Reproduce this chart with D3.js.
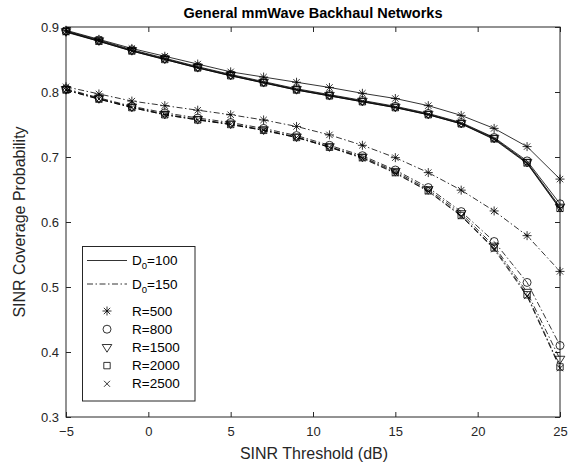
<!DOCTYPE html>
<html>
<head>
<meta charset="utf-8">
<script src="https://cdn.jsdelivr.net/npm/d3@7"></script>
<style>
  html, body { margin: 0; padding: 0; background: #fff; }
  svg { display: block; font-family: "Liberation Sans", Arial, Helvetica, sans-serif; }
</style>
</head>
<body>
<svg id="chart" width="584" height="468"></svg>
<script>
// SINR threshold values (dB)
const thresholds = [-5, -3, -1, 1, 3, 5, 7, 9, 11, 13, 15, 17, 19, 21, 23, 25];

// Cell radii and marker shapes
const radii = [500, 800, 1500, 2000, 2500];
const markerTypes = ["asterisk", "circle", "triangleDown", "square", "cross"];

// Coverage probability, D0 = 100 (solid lines)
const covD100_R500  = [0.895, 0.881, 0.867, 0.855, 0.843, 0.831, 0.823, 0.815, 0.807, 0.798, 0.790, 0.779, 0.764, 0.744, 0.716, 0.666];
const covD100_R800  = [0.894, 0.880, 0.865, 0.852, 0.839, 0.827, 0.816, 0.805, 0.796, 0.787, 0.778, 0.767, 0.753, 0.730, 0.694, 0.628];
const covD100_R1500 = [0.893, 0.879, 0.864, 0.851, 0.838, 0.826, 0.815, 0.804, 0.795, 0.786, 0.777, 0.766, 0.752, 0.729, 0.692, 0.623];
const covD100_R2000 = [0.893, 0.878, 0.863, 0.850, 0.837, 0.825, 0.814, 0.803, 0.794, 0.785, 0.776, 0.765, 0.751, 0.728, 0.691, 0.621];
const covD100_R2500 = [0.892, 0.878, 0.863, 0.850, 0.837, 0.825, 0.814, 0.803, 0.794, 0.785, 0.776, 0.765, 0.751, 0.727, 0.690, 0.620];

// Coverage probability, D0 = 150 (dash-dot lines)
const covD150_R500  = [0.808, 0.797, 0.786, 0.779, 0.772, 0.765, 0.757, 0.747, 0.734, 0.718, 0.699, 0.676, 0.649, 0.617, 0.579, 0.524];
const covD150_R800  = [0.805, 0.791, 0.778, 0.768, 0.760, 0.753, 0.744, 0.733, 0.718, 0.702, 0.680, 0.653, 0.616, 0.570, 0.507, 0.410];
const covD150_R1500 = [0.804, 0.790, 0.777, 0.766, 0.758, 0.751, 0.742, 0.731, 0.716, 0.700, 0.678, 0.650, 0.613, 0.563, 0.492, 0.389];
const covD150_R2000 = [0.803, 0.789, 0.776, 0.765, 0.757, 0.750, 0.741, 0.730, 0.715, 0.699, 0.676, 0.648, 0.610, 0.560, 0.488, 0.377];
const covD150_R2500 = [0.803, 0.789, 0.776, 0.765, 0.757, 0.750, 0.741, 0.730, 0.715, 0.698, 0.675, 0.647, 0.609, 0.558, 0.486, 0.375];

const xTicks = [-5, 0, 5, 10, 15, 20, 25];
const yTicks = [0.3, 0.4, 0.5, 0.6, 0.7, 0.8, 0.9];

const series = [
  { d0: 100, r: 500,  m: "asterisk",     values: covD100_R500 },
  { d0: 100, r: 800,  m: "circle",       values: covD100_R800 },
  { d0: 100, r: 1500, m: "triangleDown", values: covD100_R1500 },
  { d0: 100, r: 2000, m: "square",       values: covD100_R2000 },
  { d0: 100, r: 2500, m: "cross",        values: covD100_R2500 },
  { d0: 150, r: 500,  m: "asterisk",     values: covD150_R500 },
  { d0: 150, r: 800,  m: "circle",       values: covD150_R800 },
  { d0: 150, r: 1500, m: "triangleDown", values: covD150_R1500 },
  { d0: 150, r: 2000, m: "square",       values: covD150_R2000 },
  { d0: 150, r: 2500, m: "cross",        values: covD150_R2500 }
];

const svg = d3.select("#chart");
const axisColor = "#262626";
const plot = { left: 66, right: 560, top: 27, bottom: 417 };

const x = d3.scaleLinear().domain([-5, 25]).range([plot.left, plot.right]);
const y = d3.scaleLinear().domain([0.3, 0.9]).range([plot.bottom, plot.top]);

// marker path generators (centred at 0,0)
function markerPath(type) {
  switch (type) {
    case "asterisk": {
      const r = 4.5, p = d3.path();
      for (let k = 0; k < 4; k++) {
        const a = k * Math.PI / 4;
        p.moveTo(-r * Math.cos(a), -r * Math.sin(a));
        p.lineTo(r * Math.cos(a), r * Math.sin(a));
      }
      return p.toString();
    }
    case "circle": {
      const p = d3.path(); p.arc(0, 0, 4, 0, 2 * Math.PI); p.closePath(); return p.toString();
    }
    case "triangleDown": {
      const r = 4.8;
      return `M${-r},${-r * 0.6}L${r},${-r * 0.6}L0,${r}Z`;
    }
    case "square": {
      const s = 3.2;
      return `M${-s},${-s}L${s},${-s}L${s},${s}L${-s},${s}Z`;
    }
    case "cross": {
      const s = 3;
      return `M${-s},${-s}L${s},${s}M${s},${-s}L${-s},${s}`;
    }
  }
}

const dashFor = d0 => d0 === 150 ? "6,2.5,1.5,2.5" : null;

// box and ticks
const g = svg.append("g");
g.append("rect")
  .attr("x", plot.left).attr("y", plot.top)
  .attr("width", plot.right - plot.left).attr("height", plot.bottom - plot.top)
  .attr("fill", "none").attr("stroke", axisColor).attr("stroke-width", 1);

const tickLen = 5;
const xAxisBottom = d3.axisBottom(x).tickValues(xTicks).tickSizeInner(-tickLen).tickSizeOuter(0).tickPadding(10).tickFormat(d3.format("d"));
const xAxisTop = d3.axisTop(x).tickValues(xTicks).tickSizeInner(-tickLen).tickSizeOuter(0).tickFormat("");
const yAxisLeft = d3.axisLeft(y).tickValues(yTicks).tickSizeInner(-tickLen).tickSizeOuter(0).tickPadding(7).tickFormat(d3.format(".1f"));
const yAxisRight = d3.axisRight(y).tickValues(yTicks).tickSizeInner(-tickLen).tickSizeOuter(0).tickFormat("");

function styleAxis(sel) {
  sel.select(".domain").remove();
  sel.selectAll("line").attr("stroke", axisColor).attr("stroke-width", 1);
  sel.selectAll("text").attr("fill", axisColor).style("font-size", "13px")
    .style("font-family", "'Liberation Sans', Arial, sans-serif");
}

g.append("g").attr("transform", `translate(0,${plot.bottom})`).call(xAxisBottom).call(styleAxis);
g.append("g").attr("transform", `translate(0,${plot.top})`).call(xAxisTop).call(styleAxis);
g.append("g").attr("transform", `translate(${plot.left},0)`).call(yAxisLeft).call(styleAxis);
g.append("g").attr("transform", `translate(${plot.right},0)`).call(yAxisRight).call(styleAxis);

// curves
const line = d3.line().x((d, i) => x(thresholds[i])).y(d => y(d));
const curves = svg.append("g");
series.forEach(s => {
  curves.append("path")
    .datum(s.values)
    .attr("d", line)
    .attr("fill", "none")
    .attr("stroke", "#000")
    .attr("stroke-width", 0.8)
    .attr("stroke-dasharray", dashFor(s.d0));
  curves.selectAll(null)
    .data(s.values)
    .enter().append("path")
    .attr("transform", (d, i) => `translate(${x(thresholds[i])},${y(d)})`)
    .attr("d", markerPath(s.m))
    .attr("fill", "none")
    .attr("stroke", "#000")
    .attr("stroke-width", 0.8);
});

// title and axis labels
svg.append("text")
  .attr("x", (plot.left + plot.right) / 2).attr("y", 18)
  .attr("text-anchor", "middle")
  .style("font-weight", "bold").style("font-size", "14.5px")
  .attr("fill", "#000")
  .text("General mmWave Backhaul Networks");

svg.append("text")
  .attr("x", (plot.left + plot.right) / 2 + 1).attr("y", 459)
  .attr("text-anchor", "middle")
  .style("font-size", "16px")
  .attr("fill", axisColor)
  .text("SINR Threshold (dB)");

svg.append("text")
  .attr("transform", `translate(25,${(plot.top + plot.bottom) / 2}) rotate(-90)`)
  .attr("text-anchor", "middle")
  .style("font-size", "16px")
  .attr("fill", axisColor)
  .text("SINR Coverage Probability");

// legend
const legendLines = [
  { d0: 100, dy: 260.5 },
  { d0: 150, dy: 284 }
];
const legendMarkers = radii.map((r, i) => ({ r, m: markerTypes[i], dy: 311 + i * 18.2 }));

const lg = svg.append("g");
lg.append("rect")
  .attr("x", 82.5).attr("y", 246.5).attr("width", 112.5).attr("height", 154.5)
  .attr("fill", "#fff").attr("stroke", axisColor).attr("stroke-width", 1);

legendLines.forEach(e => {
  lg.append("line")
    .attr("x1", 87).attr("x2", 127).attr("y1", e.dy).attr("y2", e.dy)
    .attr("stroke", "#000").attr("stroke-width", 0.8)
    .attr("stroke-dasharray", dashFor(e.d0));
  const t = lg.append("text")
    .attr("x", 132).attr("y", e.dy + 4.5)
    .style("font-size", "13.5px").attr("fill", "#000");
  t.append("tspan").text("D");
  t.append("tspan").attr("dy", 4).style("font-size", "9.5px").text("0");
  t.append("tspan").attr("dy", -4).text("=" + e.d0);
});

legendMarkers.forEach(e => {
  lg.append("path")
    .attr("transform", `translate(107,${e.dy})`)
    .attr("d", markerPath(e.m))
    .attr("fill", "none").attr("stroke", "#000").attr("stroke-width", 0.8);
  lg.append("text")
    .attr("x", 132).attr("y", e.dy + 4.5)
    .style("font-size", "13.5px").attr("fill", "#000")
    .text("R=" + e.r);
});
</script>
</body>
</html>
